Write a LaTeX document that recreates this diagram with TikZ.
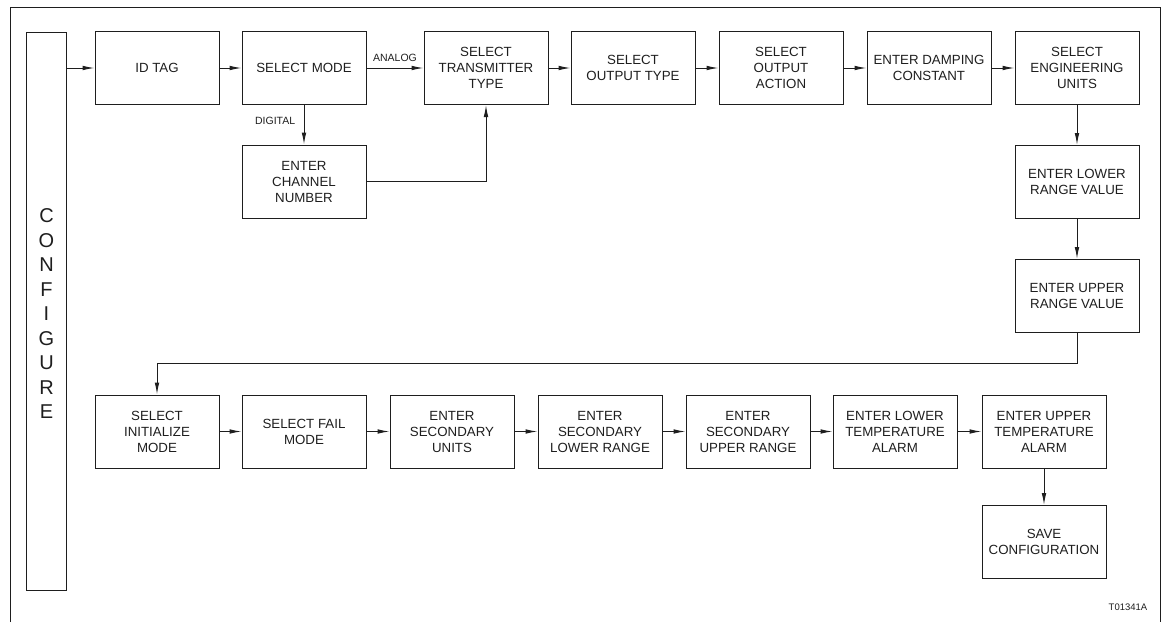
\documentclass[tikz,border=0pt]{standalone}
\usepackage{fontspec}
\setmainfont{Liberation Sans}
\usepackage{tikz}
\usetikzlibrary{arrows.meta, positioning}
\definecolor{mydark}{RGB}{30,30,30}
\tikzset{
  block/.style={rectangle, draw=mydark, text=mydark, minimum width=124pt, minimum height=73pt, align=center, font=\fontsize{13.3}{16}\selectfont, line width=1pt, inner sep=2pt},
  arrow/.style={-{Latex[length=12pt,width=4.6pt]}, line width=1pt, color=mydark},
  line/.style={line width=1pt, color=mydark},
  tag/.style={font=\fontsize{10.5}{12}\selectfont, text=mydark}
}

\begin{document}
\begin{tikzpicture}[x=1pt, y=-1pt]
  \useasboundingbox (0,0) rectangle (1165,622);
  % Outer frame
  \draw[line] (10,622) -- (10,7) -- (1160,7) -- (1160,622);

  % Configure bar
  \node[draw=mydark, line width=1pt, minimum width=40pt, minimum height=558pt, inner sep=0pt] (config) at (46.5,311) {};
  \foreach \l [count=\i from 0] in {C,O,N,F,I,G,U,R,E}
    \node[font=\fontsize{20}{20}\selectfont, text=mydark] (letter\i) at (46.5,{216+24.5*\i}) {\l};

  % Top row
  \node[block] (idtag) at (157,68) {ID TAG};
  \node[block] (selmode) at (304,68) {SELECT MODE};
  \node[block] (xmtrtype) at (486,68) {SELECT\\TRANSMITTER\\TYPE};
  \node[block] (outtype) at (633,68) {SELECT\\OUTPUT TYPE};
  \node[block] (outaction) at (781,68) {SELECT\\OUTPUT\\ACTION};
  \node[block] (damping) at (929,68) {ENTER DAMPING\\CONSTANT};
  \node[block] (engunits) at (1077,68) {SELECT\\ENGINEERING\\UNITS};

  % Digital branch
  \node[block] (channel) at (304,181.5) {ENTER\\CHANNEL\\NUMBER};

  % Range column
  \node[block] (lrv) at (1077,182) {ENTER LOWER\\RANGE VALUE};
  \node[block] (urv) at (1077,296) {ENTER UPPER\\RANGE VALUE};

  % Bottom row
  \node[block] (initmode) at (157,431.5) {SELECT\\INITIALIZE\\MODE};
  \node[block] (failmode) at (304,431.5) {SELECT FAIL\\MODE};
  \node[block] (secunits) at (452,431.5) {ENTER\\SECONDARY\\UNITS};
  \node[block] (seclower) at (600,431.5) {ENTER\\SECONDARY\\LOWER RANGE};
  \node[block] (secupper) at (748,431.5) {ENTER\\SECONDARY\\UPPER RANGE};
  \node[block] (templow) at (895,431.5) {ENTER LOWER\\TEMPERATURE\\ALARM};
  \node[block] (temphigh) at (1044,431.5) {ENTER UPPER\\TEMPERATURE\\ALARM};
  \node[block] (save) at (1044,542) {SAVE\\CONFIGURATION};

  % Connectors
  \draw[arrow] (config.east |- idtag) -- (idtag);
  \draw[arrow] (idtag) -- (selmode);
  \draw[arrow] (selmode) -- node[tag, above=3pt] (analog) {ANALOG} (xmtrtype);
  \draw[arrow] (selmode) -- node[tag, left=5pt, pos=0.4] (digital) {DIGITAL} (channel);
  \draw[arrow] (channel.east) -| (xmtrtype.south);
  \foreach \a/\b in {xmtrtype/outtype, outtype/outaction, outaction/damping, damping/engunits}
    \draw[arrow] (\a) -- (\b);
  \draw[arrow] (engunits) -- (lrv);
  \draw[arrow] (lrv) -- (urv);
  \draw[arrow] (urv.south) -- ++(0,30) -| (initmode.north);
  \foreach \a/\b in {initmode/failmode, failmode/secunits, secunits/seclower, seclower/secupper, secupper/templow, templow/temphigh, temphigh/save}
    \draw[arrow] (\a) -- (\b);

  % Figure number
  \node[tag, font=\fontsize{9.5}{11}\selectfont] (figno) at (1128,607) {T01341A};
\end{tikzpicture}
\end{document}
